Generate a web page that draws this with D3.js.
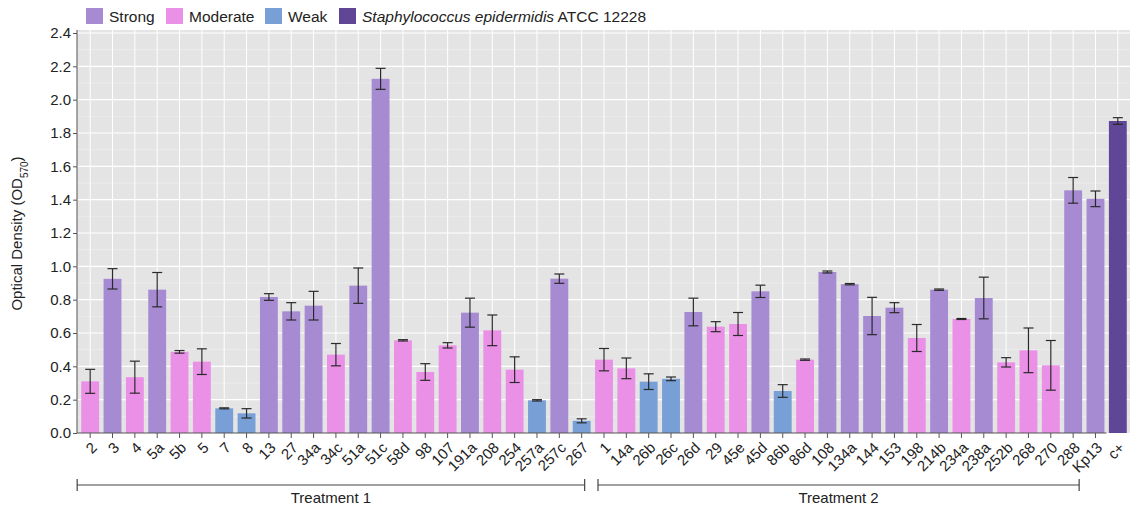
<!DOCTYPE html>
<html>
  <head>
    <meta http-equiv="Content-Type" content="text/html;charset=utf-8"/>
    <script src="https://d3js.org/d3.v7.min.js"></script>
    <style type="text/css">
      body { margin: 0; background: #fff; }
      text { font-family: "Liberation Sans", Arial, sans-serif; fill: #222; }
    </style>
  </head>
  <body>
    <div id="chart"></div>

    <script type="text/javascript">
      // strains along the x axis (treatment 1, treatment 2, control)
      var strains = ['2','3','4','5a','5b','5','7','8','13','27','34a','34c','51a','51c','58d','98','107','191a','208','254','257a','257c','267',
                     '1','14a','26b','26c','26d','29','45e','45d','86b','86d','108','134a','144','153','198','214b','234a','238a','252b','268','270','288','Kp13',
                     'c+'];
      var od = [0.31,0.925,0.335,0.86,0.487,0.428,0.148,0.118,0.816,0.73,0.764,0.47,0.884,2.125,0.556,0.366,0.526,0.722,0.616,0.38,0.196,0.926,0.073,
                0.44,0.388,0.308,0.325,0.726,0.638,0.654,0.85,0.252,0.44,0.966,0.893,0.702,0.752,0.57,0.86,0.684,0.81,0.424,0.496,0.406,1.456,1.405,
                1.872];
      var sd = [0.072,0.061,0.096,0.103,0.008,0.077,0.003,0.028,0.02,0.052,0.086,0.067,0.106,0.063,0.004,0.05,0.016,0.087,0.092,0.077,0.004,0.028,0.012,
                0.067,0.062,0.047,0.011,0.083,0.03,0.069,0.037,0.038,0.004,0.006,0.004,0.112,0.03,0.081,0.004,0.003,0.125,0.028,0.134,0.149,0.077,0.047,
                0.02];
      var biofilm = ['M','S','M','S','M','M','W','W','S','S','S','M','S','S','M','M','M','S','M','M','W','S','W',
                     'M','M','W','W','S','M','M','S','W','M','S','S','S','S','M','S','M','S','M','M','M','S','S',
                     'C'];
      var classes = ['S','M','W','C'];
      var classNames = ['Strong','Moderate','Weak','ATCC 12228'];
      var classColors = ['#a68bd3','#ea91e7','#789fd6','#5f4697'];
      var yTicks = [0,0.2,0.4,0.6,0.8,1.0,1.2,1.4,1.6,1.8,2.0,2.2,2.4];
      var groups = [{name:'Treatment 1', from:'2', to:'267'}, {name:'Treatment 2', from:'1', to:'Kp13'}];

      var width = 1137, height = 509;
      var plotTop = 30, plotBottom = 433, plotLeft = 77, plotRight = 1130;

      var svg = d3.select('#chart').append('svg')
          .attr('width', width).attr('height', height);

      var x = d3.scaleBand().domain(strains).range([79, 1129]).paddingInner(0.2).paddingOuter(0.1);
      var y = d3.scaleLinear().domain([0, 2.4]).range([plotBottom, 33]);
      var color = d3.scaleOrdinal().domain(classes).range(classColors);
      var cx = function(s) { return x(s) + x.bandwidth() / 2; };

      // panel background + grid
      svg.append('rect').attr('x', plotLeft).attr('y', plotTop)
         .attr('width', plotRight - plotLeft).attr('height', plotBottom - plotTop)
         .attr('fill', '#e4e4e4');
      var minor = d3.range(0.1, 2.4, 0.2);
      svg.selectAll('.gminor').data(minor).enter().append('line')
         .attr('x1', plotLeft).attr('x2', plotRight)
         .attr('y1', function(d) { return y(d); }).attr('y2', function(d) { return y(d); })
         .attr('stroke', '#f2f2f2').attr('stroke-width', 0.6);
      svg.selectAll('.gmajor').data(yTicks.slice(1)).enter().append('line')
         .attr('x1', plotLeft).attr('x2', plotRight)
         .attr('y1', function(d) { return y(d); }).attr('y2', function(d) { return y(d); })
         .attr('stroke', '#fff').attr('stroke-width', 1.1);
      svg.selectAll('.gx').data(strains).enter().append('line')
         .attr('x1', cx).attr('x2', cx)
         .attr('y1', plotTop).attr('y2', plotBottom)
         .attr('stroke', '#fff').attr('stroke-width', 1);

      // bars
      var rows = strains.map(function(s, i) { return {s: s, v: od[i], e: sd[i], c: biofilm[i]}; });
      svg.selectAll('.bar').data(rows).enter().append('rect')
         .attr('x', function(d) { return x(d.s); })
         .attr('width', x.bandwidth())
         .attr('y', function(d) { return y(d.v); })
         .attr('height', function(d) { return y(0) - y(d.v); })
         .attr('fill', function(d) { return color(d.c); });

      // error bars
      var eb = svg.selectAll('.err').data(rows).enter().append('g')
         .attr('stroke', '#2a2a2a').attr('stroke-width', 1.2);
      eb.append('line')
         .attr('x1', function(d) { return cx(d.s); }).attr('x2', function(d) { return cx(d.s); })
         .attr('y1', function(d) { return y(d.v - d.e); }).attr('y2', function(d) { return y(d.v + d.e); });
      eb.append('line')
         .attr('x1', function(d) { return cx(d.s) - 5; }).attr('x2', function(d) { return cx(d.s) + 5; })
         .attr('y1', function(d) { return y(d.v + d.e); }).attr('y2', function(d) { return y(d.v + d.e); });
      eb.append('line')
         .attr('x1', function(d) { return cx(d.s) - 5; }).attr('x2', function(d) { return cx(d.s) + 5; })
         .attr('y1', function(d) { return y(d.v - d.e); }).attr('y2', function(d) { return y(d.v - d.e); });

      // y axis
      var yAxis = svg.append('g').attr('transform', 'translate(' + plotLeft + ',0)')
         .call(d3.axisLeft(y).tickValues(yTicks).tickFormat(d3.format('.1f')).tickSize(4).tickSizeOuter(0));
      yAxis.select('.domain').remove();
      yAxis.selectAll('line').attr('stroke', '#555');
      yAxis.selectAll('text').style('font-size', '15px').attr('fill', '#222').attr('x', -6);
      svg.append('line').attr('x1', plotLeft).attr('x2', plotLeft)
         .attr('y1', plotTop).attr('y2', plotBottom).attr('stroke', '#555');

      var yl = svg.append('text')
         .attr('transform', 'translate(22,' + ((plotTop + plotBottom) / 2 + 2) + ') rotate(-90)')
         .attr('text-anchor', 'middle').style('font-size', '15px');
      yl.append('tspan').text('Optical Density (OD');
      yl.append('tspan').attr('baseline-shift', 'sub').style('font-size', '10px').text('570');
      yl.append('tspan').text(')');

      // x axis (control bar has no tick)
      var xAxis = svg.append('g').attr('transform', 'translate(0,' + plotBottom + ')')
         .call(d3.axisBottom(x).tickSize(5).tickSizeOuter(0));
      xAxis.select('.domain').remove();
      xAxis.selectAll('.tick line').attr('stroke', '#555')
         .filter(function(d) { return d === 'c+'; }).remove();
      xAxis.selectAll('.tick text')
         .style('font-size', '15px').attr('fill', '#222')
         .attr('text-anchor', 'end')
         .attr('y', 0)
         .attr('dy', '0.35em')
         .attr('transform', 'translate(4,12) rotate(-45)');
      svg.append('line').attr('x1', plotLeft).attr('x2', cx('Kp13') + 11)
         .attr('y1', plotBottom).attr('y2', plotBottom).attr('stroke', '#555');

      // treatment brackets
      var bracketY = 485;
      var gx = [[cx('2') - 13, cx('267') + 3], [cx('1') - 6, cx('288') + 6]];
      groups.forEach(function(g, i) {
         var b = svg.append('g').attr('stroke', '#444').attr('stroke-width', 1.2);
         b.append('line').attr('x1', gx[i][0]).attr('x2', gx[i][1]).attr('y1', bracketY).attr('y2', bracketY);
         b.append('line').attr('x1', gx[i][0]).attr('x2', gx[i][0]).attr('y1', bracketY - 6).attr('y2', bracketY + 6);
         b.append('line').attr('x1', gx[i][1]).attr('x2', gx[i][1]).attr('y1', bracketY - 6).attr('y2', bracketY + 6);
         svg.append('text').attr('x', (gx[i][0] + gx[i][1]) / 2).attr('y', bracketY + 18)
            .attr('text-anchor', 'middle').style('font-size', '15px').text(g.name);
      });

      // legend
      var lx = [86, 166, 265, 339];
      var leg = svg.selectAll('.leg').data(classes).enter().append('g')
         .attr('transform', function(d, i) { return 'translate(' + lx[i] + ',8)'; });
      leg.append('rect').attr('width', 17).attr('height', 16)
         .attr('fill', function(d) { return color(d); });
      leg.append('text').attr('x', 23).attr('y', 14).style('font-size', '15.5px')
         .each(function(d, i) {
            var t = d3.select(this);
            if (d === 'C') {
               t.append('tspan').style('font-style', 'italic').text('Staphylococcus epidermidis');
               t.append('tspan').text(' ' + classNames[i]);
            } else {
               t.text(classNames[i]);
            }
         });
    </script>
  </body>
</html>
